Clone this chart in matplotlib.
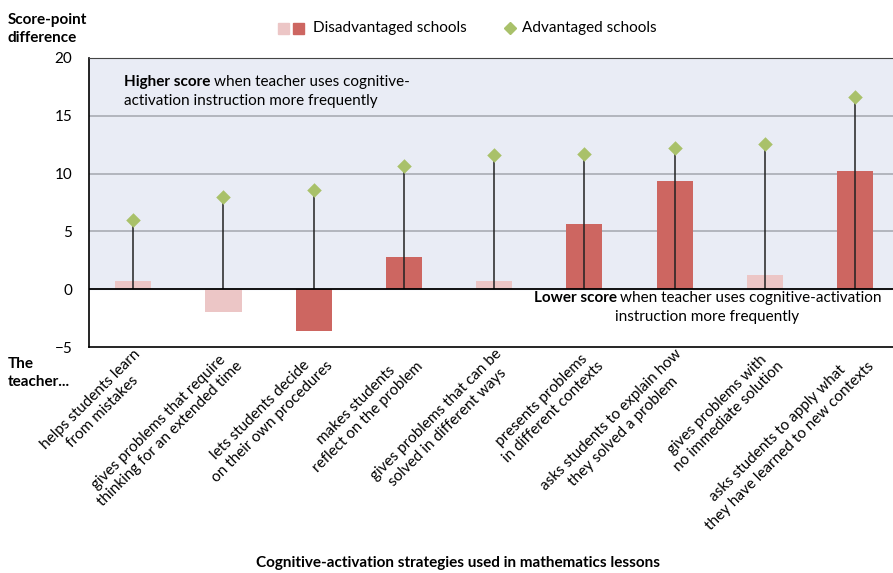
import matplotlib
matplotlib.use("Agg")
import matplotlib.pyplot as plt
import numpy as np

plt.rcParams["font.family"] = ["Lato", "DejaVu Sans"]

# Teacher cognitive-activation strategies (x categories)
STRATEGIES = [
    "helps students learn\nfrom mistakes",
    "gives problems that require\nthinking for an extended time",
    "lets students decide\non their own procedures",
    "makes students\nreflect on the problem",
    "gives problems that can be\nsolved in different ways",
    "presents problems\nin different contexts",
    "asks students to explain how\nthey solved a problem",
    "gives problems with\nno immediate solution",
    "asks students to apply what\nthey have learned to new contexts",
]
# Score-point difference, disadvantaged schools (bars)
DISADV = [0.7, -2.0, -3.6, 2.8, 0.7, 5.6, 9.4, 1.2, 10.2]
# Significant difference? (dark vs light bar)
DISADV_SIG = [False, False, True, True, False, True, True, False, True]
# Score-point difference, advantaged schools (diamonds)
ADV = [6.0, 8.0, 8.6, 10.7, 11.6, 11.7, 12.2, 12.55, 16.6]

DARK = "#CD6661"
LIGHT = "#ECC6C6"
GREEN = "#A9C16A"
SHADE = "#E9ECF5"

fig = plt.figure(figsize=(8.93, 5.73), dpi=100)
ax = fig.add_axes([0.0997, 0.3944, 0.9003, 0.5044])

x = np.arange(len(STRATEGIES))
ax.axhspan(0, 20, color=SHADE, zorder=0)
for yv in (5, 10, 15):
    ax.axhline(yv, color="#A3A6AE", lw=1.1, zorder=1)

colors = [DARK if s else LIGHT for s in DISADV_SIG]
ax.bar(x, DISADV, width=0.4, color=colors, zorder=2)
ax.vlines(x, 0, ADV, color="#222222", lw=1.1, zorder=3)
ax.scatter(x, ADV, marker="D", s=55, color=GREEN, zorder=4, linewidths=0)
ax.axhline(0, color="black", lw=1.3, zorder=3)

ax.set_xlim(-0.49, 8.42)
ax.set_ylim(-5, 20)
ax.set_yticks([20, 15, 10, 5, 0, -5])
ax.tick_params(axis="y", length=0, labelsize=11, pad=12)
ax.set_xticks(x)
ax.set_xticklabels(STRATEGIES, rotation=45, ha="right", va="top",
                   rotation_mode="anchor", fontsize=11)
ax.tick_params(axis="x", length=0, pad=0)
for lab in ax.get_xticklabels():
    lab.set_multialignment("center")
    lab.set_linespacing(1.25)

ax.spines["right"].set_visible(False)
ax.spines["top"].set_color("#444444")
ax.spines["left"].set_linewidth(1.2)
ax.spines["bottom"].set_linewidth(1.2)

ax.text(0.043, 0.94, "Higher score", transform=ax.transAxes, fontsize=11,
        fontweight="bold", ha="left", va="top")
ax.text(0.043 + 0.112, 0.94, "when teacher uses cognitive-", transform=ax.transAxes,
        fontsize=11, ha="left", va="top")
ax.text(0.043, 0.875, "activation instruction more frequently", transform=ax.transAxes,
        fontsize=11, ha="left", va="top")

ax.text(0.554, 0.17, "Lower score", transform=ax.transAxes, fontsize=11,
        fontweight="bold", ha="left", va="center")
ax.text(0.660, 0.17, "when teacher uses cognitive-activation", transform=ax.transAxes,
        fontsize=11, ha="left", va="center")
ax.text(0.769, 0.105, "instruction more frequently", transform=ax.transAxes,
        fontsize=11, ha="center", va="center")

fig.text(8 / 893, 1 - 29 / 573, "Score-point\ndifference", fontsize=11,
         fontweight="bold", ha="left", va="center", linespacing=1.3)
fig.text(8 / 893, 1 - 373 / 573, "The\nteacher...", fontsize=11,
         fontweight="bold", ha="left", va="center", linespacing=1.3)
fig.text(458 / 893, 1 - 563 / 573,
         "Cognitive-activation strategies used in mathematics lessons",
         fontsize=11, fontweight="bold", ha="center", va="center")

# legend
fig.patches.append(plt.Rectangle((278 / 893, 1 - 34 / 573), 11 / 893, 11 / 573,
                                 transform=fig.transFigure, color=LIGHT))
fig.patches.append(plt.Rectangle((293 / 893, 1 - 34 / 573), 11 / 893, 11 / 573,
                                 transform=fig.transFigure, color=DARK))
fig.text(313 / 893, 1 - 28 / 573, "Disadvantaged schools", fontsize=11,
         ha="left", va="center")
fig.lines.append(plt.Line2D([510 / 893], [1 - 28 / 573], marker="D", markersize=6,
                            color=GREEN, linestyle="none", transform=fig.transFigure))
fig.text(522 / 893, 1 - 28 / 573, "Advantaged schools", fontsize=11,
         ha="left", va="center")

fig.savefig("out.png", dpi=100)
